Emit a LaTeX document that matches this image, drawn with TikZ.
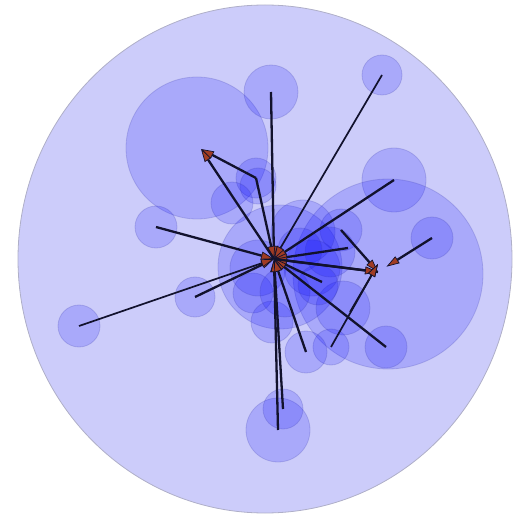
\documentclass[tikz,border=0pt]{standalone}
\usetikzlibrary{arrows.meta}
\definecolor{linec}{RGB}{18,18,45}
\definecolor{arrc}{RGB}{160,60,36}
\definecolor{outerfill}{RGB}{204,204,250}
\definecolor{outerdraw}{RGB}{175,175,200}
\definecolor{blobdraw}{RGB}{60,60,170}
\tikzset{
  blob/.style={circle, inner sep=0pt, minimum size=#1, fill=blue, fill opacity=0.17,
    draw=blobdraw, draw opacity=0.22, line width=0.8pt},
  link/.style={draw=linec, line width=2.3pt},
  thin link/.style={draw=linec, line width=1.7pt},
  arr/.style={-{Triangle[length=13pt,width=8pt,fill=arrc,line width=0.7pt]}},
}
\begin{document}
\begin{tikzpicture}[x=1pt,y=-1pt]
\useasboundingbox (0,0) rectangle (531,516);
% outer circle
\draw[fill=outerfill, draw=outerdraw, line width=0.8pt] (265,259) ellipse [x radius=247, y radius=254];
% circles
\node[blob=142] (TL) at (197,148) {};
\node[blob=54] (T) at (271,92) {};
\node[blob=40] (TR) at (382,75) {};
\node[blob=64] (RM) at (394,180) {};
\node[blob=190] (RB) at (388,274) {};
\node[blob=42] (RS) at (432,238) {};
\node[blob=42] (BR) at (386,347) {};
\node[blob=42] (L1) at (156,227) {};
\node[blob=40] (L2) at (195,297) {};
\node[blob=42] (FL) at (79,326) {};
\node[blob=64] (B) at (278,430) {};
\node[blob=40] (Bs) at (283,409) {};
\node[blob=124] (CB) at (280,267) {};
\node[blob=40] (D) at (256,178) {};
\node[blob=36] (D2) at (258,186) {};
\node[blob=42] (E) at (232,203) {};
\node[blob=42] (F) at (341,230) {};
\node[blob=40] (G) at (253,293) {};
\node[blob=42] (Hc) at (272,322) {};
\node[blob=54] (I) at (343,308) {};
\node[blob=36] (J) at (331,347) {};
\node[blob=42] (K) at (306,352) {};
\node[blob=64] (M1) at (303,232) {};
\node[blob=56] (M2) at (312,268) {};
\node[blob=50] (M3) at (330,252) {};
\node[blob=56] (M4) at (258,268) {};
\node[blob=50] (M5) at (285,292) {};
\node[blob=44] (M6) at (300,250) {};
\node[blob=40] (M7) at (318,285) {};
% hubs and free ends
\coordinate (H) at (274,259);
\coordinate (H2) at (378,272);
\coordinate (TA) at (201,149);
\coordinate (P1) at (348,248);
\coordinate (P2) at (322,282);
\coordinate (P3) at (350,312);
% arrows into the main hub
\foreach \s in {T.center,RM.center,L1.center,L2.center,B.center,Bs.center,BR.center,K.center,P1,P2,D.center,H2}{
  \draw[link,arr] (\s) -- (H);
}
\foreach \s in {TR.center,FL.center}{
  \draw[thin link,arr] (\s) -- (H);
}
% arrows to second hub
\draw[link,arr] (H) -- (H2);
\draw[link,arr] (F.center) -- (H2);
\draw[link,arr,shorten >=10pt] (RS.center) -- (H2);
\draw[thin link,arr] (J.center) -- ([yshift=8pt]H2);
\draw[thin link,arr] (P3) -- ([yshift=8pt]H2);
% arrows to the top-left end
\draw[link,arr] (H) -- (TA);
\draw[link,arr] (D.center) -- (TA);
\end{tikzpicture}
\end{document}
